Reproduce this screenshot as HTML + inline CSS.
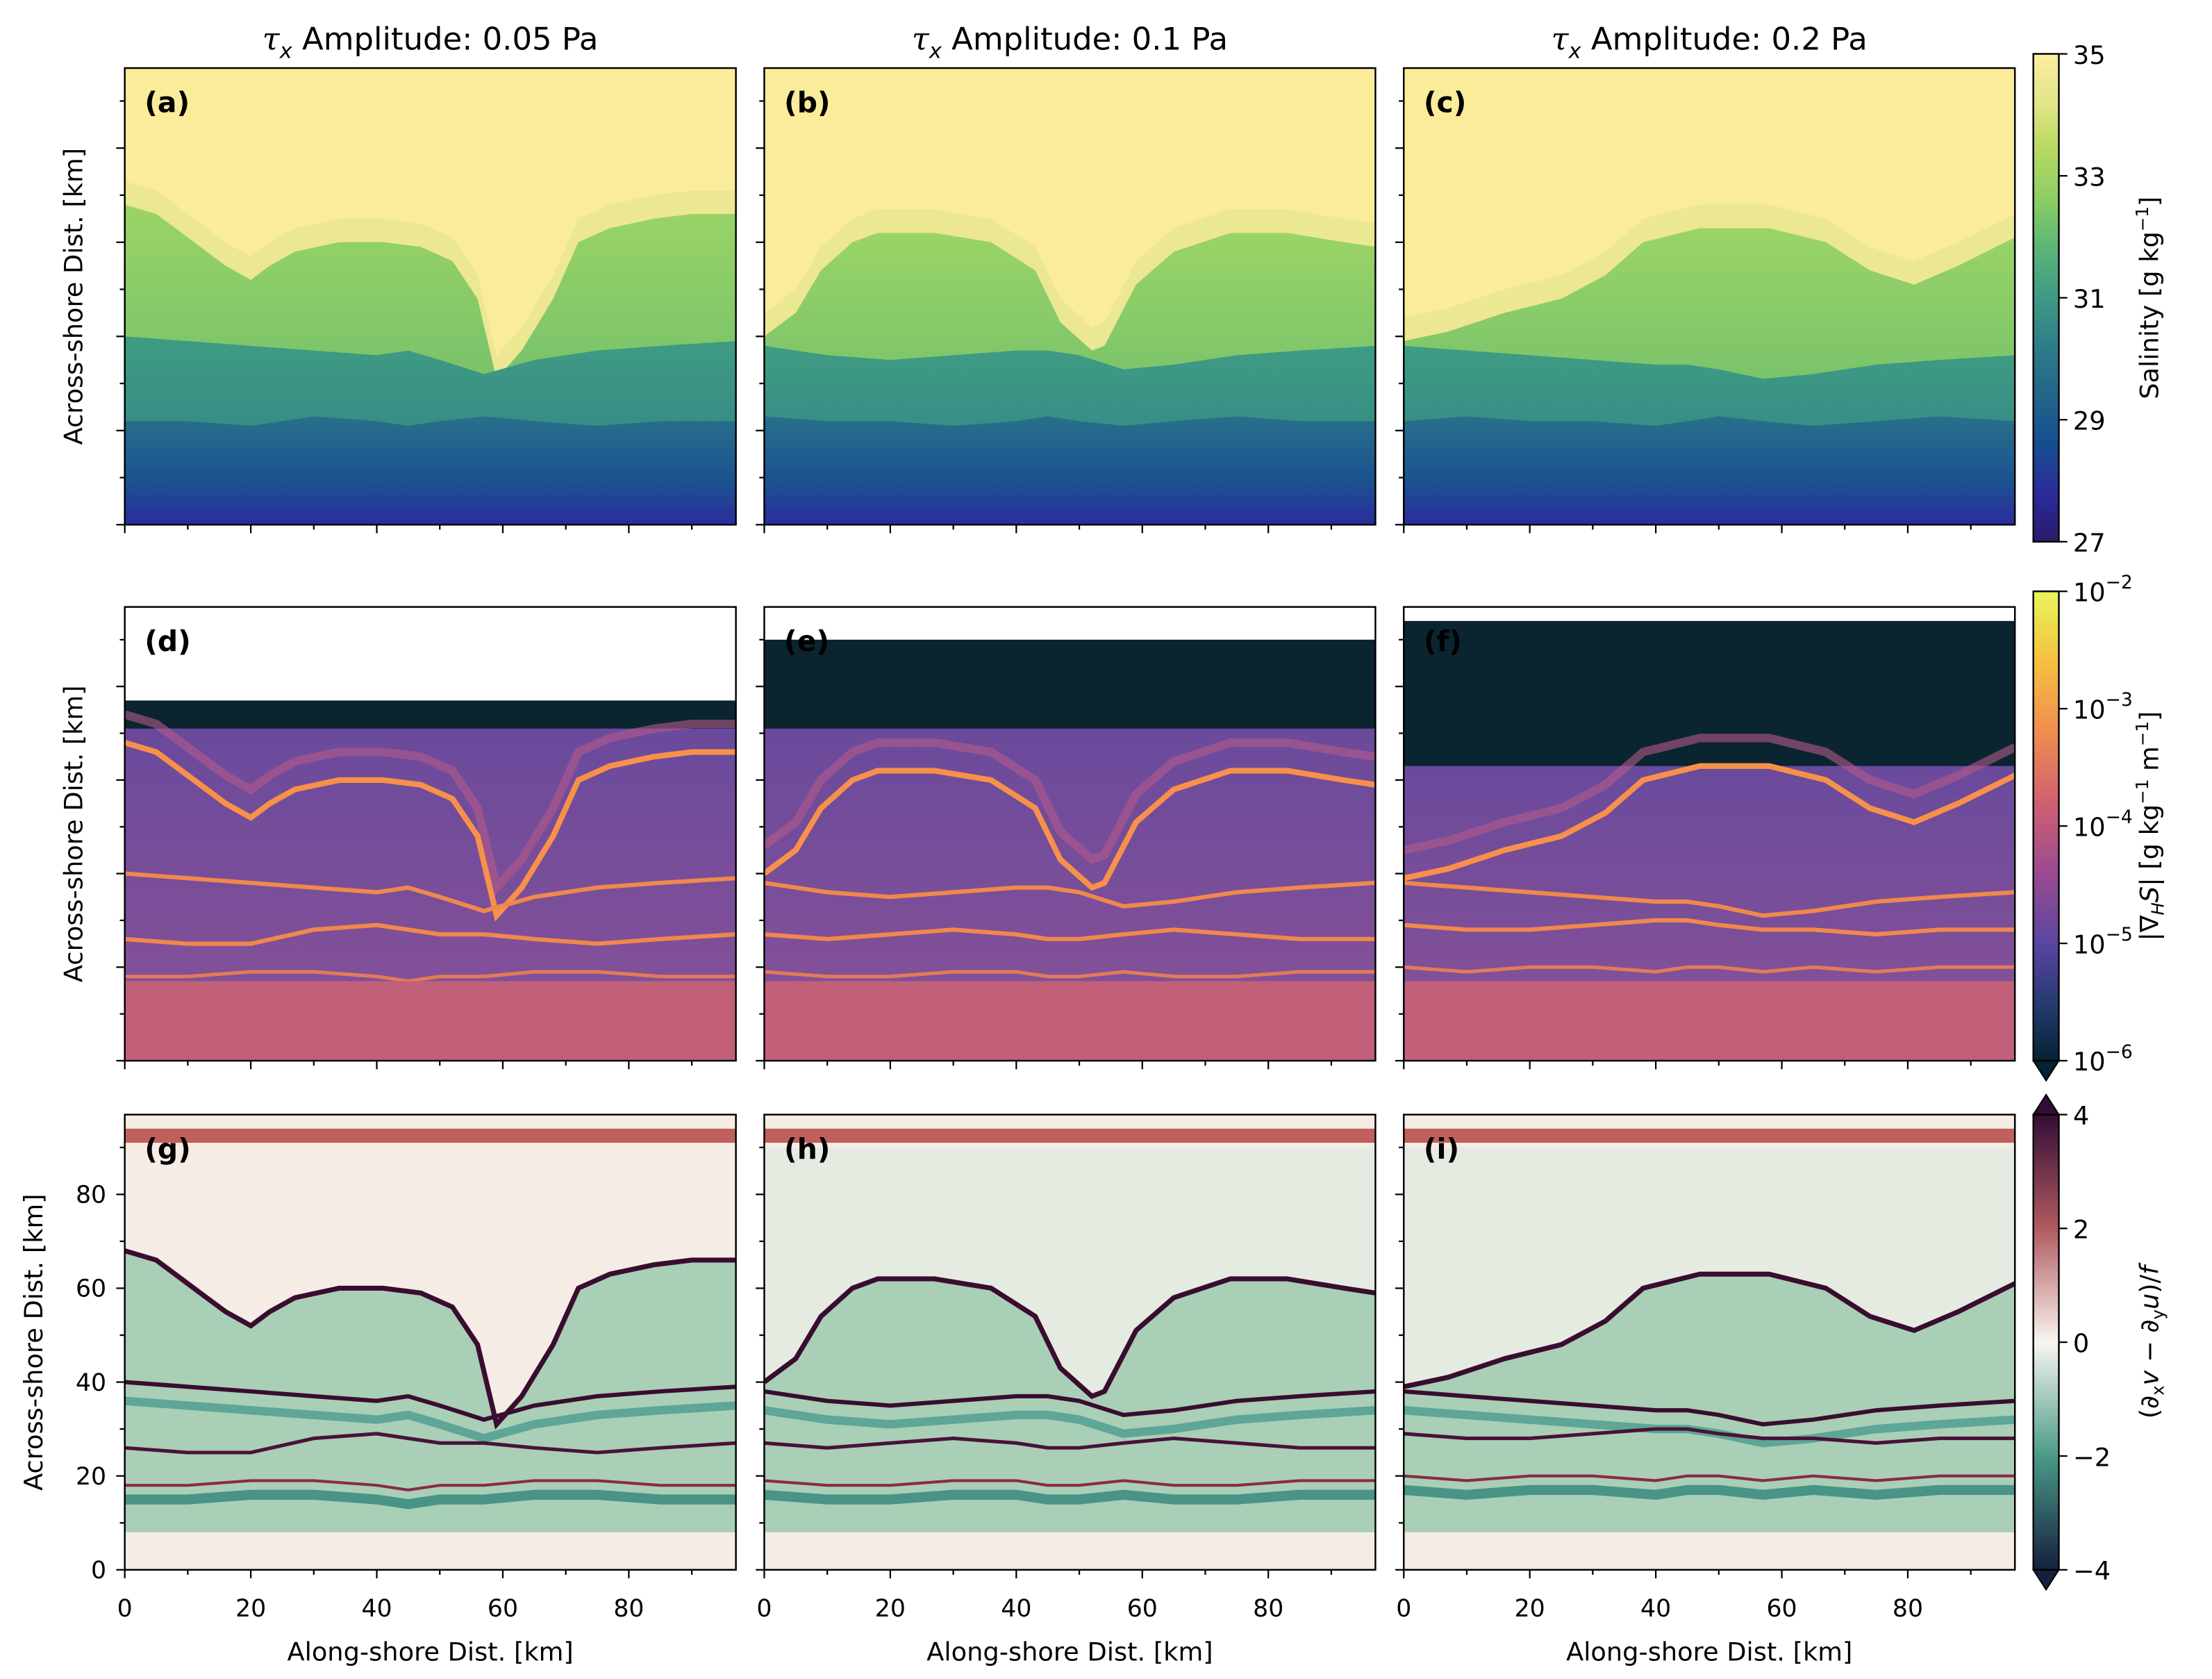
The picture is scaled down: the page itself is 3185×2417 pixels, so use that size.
<!DOCTYPE html>
<html><head><meta charset="utf-8"><style>
html,body{margin:0;padding:0;background:#fff}
svg{display:block}
text{font-family:"DejaVu Sans","Liberation Sans",sans-serif;fill:#000}
</style></head><body>
<svg id="fig" xmlns="http://www.w3.org/2000/svg" width="3185" height="2417" viewBox="0 0 1560 1184" preserveAspectRatio="none">
<defs>
<linearGradient id="cbSal" x1="0" y1="0" x2="0" y2="1">
<stop offset="0" stop-color="#fbeea0"/><stop offset=".1" stop-color="#e3e48a"/><stop offset=".2" stop-color="#b5d960"/><stop offset=".3" stop-color="#8ccc66"/><stop offset=".4" stop-color="#5ab577"/><stop offset=".5" stop-color="#3d9a85"/><stop offset=".6" stop-color="#2e7d88"/><stop offset=".7" stop-color="#236589"/><stop offset=".8" stop-color="#154e90"/><stop offset=".9" stop-color="#2a2b9a"/><stop offset="1" stop-color="#2a1a6a"/></linearGradient>
<linearGradient id="cbGrad" x1="0" y1="0" x2="0" y2="1">
<stop offset="0" stop-color="#e8f55a"/><stop offset=".15" stop-color="#f5c040"/><stop offset=".3" stop-color="#f08c50"/><stop offset=".45" stop-color="#d06070"/><stop offset=".6" stop-color="#9a4a90"/><stop offset=".75" stop-color="#5a45a0"/><stop offset=".88" stop-color="#253a70"/><stop offset="1" stop-color="#042333"/></linearGradient>
<linearGradient id="cbCurl" x1="0" y1="0" x2="0" y2="1">
<stop offset="0" stop-color="#340d35"/><stop offset=".25" stop-color="#b05a60"/><stop offset=".5" stop-color="#f8f5f0"/><stop offset=".75" stop-color="#4a9a88"/><stop offset="1" stop-color="#15203f"/></linearGradient>
<linearGradient id="grGreen" x1="0" y1="0" x2="0" y2="1"><stop offset="0" stop-color="#9ad466"/><stop offset="1" stop-color="#5cb46f"/></linearGradient>
<linearGradient id="grTeal" x1="0" y1="0" x2="0" y2="1"><stop offset="0" stop-color="#3f9c83"/><stop offset="1" stop-color="#2e7d88"/></linearGradient>
<linearGradient id="grBlue" x1="0" y1="0" x2="0" y2="1"><stop offset="0" stop-color="#28708b"/><stop offset=".6" stop-color="#1b5290"/><stop offset="1" stop-color="#2b2c9c"/></linearGradient>
<linearGradient id="grPurp" x1="0" y1="0" x2="0" y2="1"><stop offset="0" stop-color="#6a4a9c"/><stop offset="1" stop-color="#8a5296"/></linearGradient>
</defs>
<g id="root"></g>
</svg>
<script>
// ---------- data (km) ----------
const panelTitles = ["0.05", "0.1", "0.2"];
const frontX = [[0,5,12,16,20,23,27,34,41,47,52,56,59,63,68,72,77,84,90,97],
                [0,5,9,14,18,27,36,43,47,52,54,59,65,74,83,92,97],
                [0,7,16,25,32,38,47,58,67,74,81,88,97]];
const frontY = [[68,66,59,55,52,55,58,60,60,59,56,48,31,37,48,60,63,65,66,66],
                [40,45,54,60,62,62,60,54,43,37,38,51,58,62,62,60,59],
                [39,41,45,48,53,60,63,63,60,54,51,55,61]];
const midX = [0,10,20,30,40,45,50,57,65,75,85,97];
const midY = [[40,39,38,37,36,37,35,32,35,37,38,39],
              [38,36,35,36,37,37,36,33,34,36,37,38],
              [38,37,36,35,34,34,33,31,32,34,35,36]];
const lowY = [[22,22,21,23,22,21,22,23,22,21,22,22],
              [23,22,22,21,22,23,22,21,22,23,22,22],
              [22,23,22,22,21,22,23,22,21,22,23,22]];
const line2Y = [[26,25,25,28,29,28,27,27,26,25,26,27],
                [27,26,27,28,27,26,26,27,28,27,26,26],
                [29,28,28,29,30,30,29,28,28,27,28,28]];
const line3Y = [[18,18,19,19,18,17,18,18,19,19,18,18],
                [19,18,18,19,19,18,18,19,18,18,19,19],
                [20,19,20,20,19,20,20,19,20,19,20,20]];
const whiteTop = [77, 90, 94];
const darkBottom = [71, 71, 63];
const pinkTop = [17, 17, 17];
const salTicks = ["35","33","31","29","27"];
const gradTicks = ["-2","-3","-4","-5","-6"];
const curlTicks = ["4","2","0","\u22122","\u22124"];
const xTickVals = [0,20,40,60,80];
const yTickVals = [0,20,40,60,80];
const letters = ["a","b","c","d","e","f","g","h","i"];

// ---------- layout ----------
const NS = "http://www.w3.org/2000/svg";
const root = document.getElementById("root");
const colX = [88, 539, 990], PW = 431;
const rowTop = [48, 428, 786], rowBot = [370, 748, 1107];
const KM = 97;
function sx(c, v){ return colX[c] + v/KM*PW; }
function sy(r, v){ return rowBot[r] - v/KM*(rowBot[r]-rowTop[r]); }
function mk(tag, attrs, parent){ const e=document.createElementNS(NS,tag); for(const k in attrs) e.setAttribute(k, attrs[k]); (parent||root).appendChild(e); return e; }
function linePath(c, r, xs, ys){ return xs.map((x,i)=>(i?"L":"M")+sx(c,x).toFixed(1)+","+sy(r,ys[i]).toFixed(1)).join(""); }
function fillBelow(c, r, xs, ys, bottomKm){ return linePath(c,r,xs,ys)+"L"+sx(c,xs[xs.length-1])+","+sy(r,bottomKm)+"L"+sx(c,xs[0])+","+sy(r,bottomKm)+"Z"; }
function addOff(arr, d){ return arr.map(v=>v+d); }

for(let c=0;c<3;c++){
  for(let r=0;r<3;r++){
    const cl = mk("clipPath",{id:"cl"+c+"_"+r}, document.querySelector("defs"));
    mk("rect",{x:colX[c],y:rowTop[r],width:PW,height:rowBot[r]-rowTop[r]},cl);
  }
}

for(let c=0;c<3;c++){
  const fx=frontX[c], fy=frontY[c];
  // ----- row 0 salinity -----
  let g = mk("g",{"clip-path":"url(#cl"+c+"_0)"});
  
  
  mk("rect",{x:colX[c],y:rowTop[0],width:PW,height:rowBot[0]-rowTop[0],fill:"#fbec9b"},g);
  mk("path",{d:fillBelow(c,0,fx,addOff(fy,5),0),fill:"#e8e690",opacity:0.8},g);
  mk("path",{d:fillBelow(c,0,fx,fy,0),fill:"url(#grGreen)"},g);
  mk("path",{d:fillBelow(c,0,midX,midY[c],0),fill:"url(#grTeal)"},g);
  mk("path",{d:fillBelow(c,0,midX,lowY[c],0),fill:"url(#grBlue)"},g);
  // ----- row 1 gradient magnitude -----
  g = mk("g",{"clip-path":"url(#cl"+c+"_1)"});
  
  
  mk("rect",{x:colX[c],y:rowTop[1],width:PW,height:rowBot[1]-rowTop[1],fill:"#ffffff"},g);
  mk("rect",{x:colX[c],y:sy(1,whiteTop[c]),width:PW,height:sy(1,0)-sy(1,whiteTop[c]),fill:"#0a2530"},g);
  mk("rect",{x:colX[c],y:sy(1,darkBottom[c]),width:PW,height:sy(1,0)-sy(1,darkBottom[c]),fill:"url(#grPurp)"},g);
  mk("path",{d:linePath(c,1,fx,addOff(fy,6)),stroke:"#b45a88",fill:"none","stroke-width":6,opacity:.6},g);
  mk("path",{d:linePath(c,1,fx,fy),stroke:"#f7904a",fill:"none","stroke-width":4},g);
  mk("path",{d:linePath(c,1,midX,midY[c]),stroke:"#f0884c",fill:"none","stroke-width":3},g);
  mk("path",{d:linePath(c,1,midX,line2Y[c]),stroke:"#f0884c",fill:"none","stroke-width":3},g);
  mk("path",{d:linePath(c,1,midX,line3Y[c]),stroke:"#e47a58",fill:"none","stroke-width":2.5},g);
  mk("rect",{x:colX[c],y:sy(1,pinkTop[c]),width:PW,height:sy(1,0)-sy(1,pinkTop[c]),fill:"#c2607a"},g);
  // ----- row 2 vorticity -----
  g = mk("g",{"clip-path":"url(#cl"+c+"_2)"});
  
  
  mk("rect",{x:colX[c],y:rowTop[2],width:PW,height:rowBot[2]-rowTop[2],fill:"#f6ece6"},g);
  if(c>0) mk("rect",{x:colX[c],y:sy(2,90),width:PW,height:sy(2,35)-sy(2,90),fill:"#e6ebe2"},g);
  mk("path",{d:fillBelow(c,2,fx,fy,8),fill:"#a9cfb6"},g);
  mk("path",{d:linePath(c,2,midX,addOff(midY[c],-4)),stroke:"#2d8a80",fill:"none","stroke-width":6,opacity:.6},g);
  mk("path",{d:linePath(c,2,midX,addOff(line3Y[c],-3)),stroke:"#1f7a74",fill:"none","stroke-width":7,opacity:.7},g);
  mk("path",{d:linePath(c,2,fx,fy),stroke:"#3a0d30",fill:"none","stroke-width":3.5},g);
  mk("path",{d:linePath(c,2,midX,midY[c]),stroke:"#3a0d30",fill:"none","stroke-width":3},g);
  mk("path",{d:linePath(c,2,midX,line2Y[c]),stroke:"#4a1238",fill:"none","stroke-width":2.5},g);
  mk("path",{d:linePath(c,2,midX,line3Y[c]),stroke:"#8a2a48",fill:"none","stroke-width":2},g);
  mk("rect",{x:colX[c],y:sy(2,94),width:PW,height:sy(2,91)-sy(2,94),fill:"#c0605a"},g);
}

// ----- axes frames, ticks, labels -----
for(let r=0;r<3;r++){
  for(let c=0;c<3;c++){
    const f = mk("rect",{x:colX[c],y:rowTop[r],width:PW,height:rowBot[r]-rowTop[r],fill:"none",stroke:"#000","stroke-width":1.2});
    
    
    const lt = mk("text",{x:colX[c]+14,y:rowTop[r]+31,"font-size":20,"font-weight":"bold"});
    lt.textContent = "("+letters[r*3+c]+")";
    
    
    for(let v=0; v<=90; v+=10){
      const L = (v%20===0)?6:3.5;
      mk("line",{x1:sx(c,v),x2:sx(c,v),y1:rowBot[r],y2:rowBot[r]+L,stroke:"#000","stroke-width":1.1});
      mk("line",{x1:colX[c],x2:colX[c]-L,y1:sy(r,v),y2:sy(r,v),stroke:"#000","stroke-width":1.1});
    }
    if(r===2){
      xTickVals.forEach(v=>{
        const t = mk("text",{x:sx(c,v),y:1140,"font-size":17,"text-anchor":"middle"});
        t.textContent = v;
        
        
      });
      const xl = mk("text",{x:colX[c]+PW/2,y:1171,"font-size":18,"text-anchor":"middle"});
      xl.textContent = "Along-shore Dist. [km]";
      
      
    }
    if(r===0){
      const tt = mk("text",{x:colX[c]+PW/2,y:35,"font-size":22,"text-anchor":"middle"});
      tt.innerHTML = '<tspan font-style="italic" font-family="DejaVu Serif, serif">τ</tspan><tspan font-size="15" dy="6" font-style="italic">x</tspan><tspan dy="-6"> Amplitude: '+panelTitles[c]+' Pa</tspan>';
      
      
    }
  }
  if(r===2){
    yTickVals.forEach(v=>{
      const t = mk("text",{x:75,y:sy(2,v)+6,"font-size":17,"text-anchor":"end"});
      t.textContent = v;
      
      
    });
  }
  const yx = r===2?30:58, yc=(rowTop[r]+rowBot[r])/2;
  const yl = mk("text",{x:yx,y:yc,"font-size":18,"text-anchor":"middle",transform:"rotate(-90 "+yx+" "+yc+")"});
  yl.textContent = "Across-shore Dist. [km]";
  
  
}

// ----- colorbars -----
const cbx=1434, cbw=18;
const cbs = [
  {t:38,b:382,fill:"url(#cbSal)",ticks:salTicks,label:"Salinity [g kg<tspan dy='-7' font-size='12'>−1</tspan><tspan dy='7'>]</tspan>",name:"salinity-colorbar",up:false,down:false,exp:false},
  {t:417,b:748,fill:"url(#cbGrad)",ticks:gradTicks,label:"|∇<tspan font-size='12' dy='4' font-style='italic'>H</tspan><tspan dy='-4' font-style='italic'>S</tspan>| [g kg<tspan dy='-7' font-size='12'>−1</tspan><tspan dy='7'> m</tspan><tspan dy='-7' font-size='12'>−1</tspan><tspan dy='7'>]</tspan>",name:"gradient-colorbar",up:false,down:true,exp:true},
  {t:786,b:1107,fill:"url(#cbCurl)",ticks:curlTicks,label:"(∂<tspan font-size='12' dy='4'>x</tspan><tspan dy='-4' font-style='italic'>v</tspan> − ∂<tspan font-size='12' dy='4'>y</tspan><tspan dy='-4' font-style='italic'>u</tspan>)/<tspan font-style='italic'>f</tspan>",name:"vorticity-colorbar",up:true,down:true,exp:false}
];
cbs.forEach((cb,i)=>{
  const g = mk("g",{});
  
  
  mk("rect",{x:cbx,y:cb.t,width:cbw,height:cb.b-cb.t,fill:cb.fill},g);
  if(cb.down) mk("path",{d:`M${cbx},${cb.b}L${cbx+cbw},${cb.b}L${cbx+cbw/2},${cb.b+14}Z`,fill:i===1?"#042333":"#15203f",stroke:"#000","stroke-width":1},g);
  if(cb.up) mk("path",{d:`M${cbx},${cb.t}L${cbx+cbw},${cb.t}L${cbx+cbw/2},${cb.t-14}Z`,fill:"#340d35",stroke:"#000","stroke-width":1},g);
  mk("rect",{x:cbx,y:cb.t,width:cbw,height:cb.b-cb.t,fill:"none",stroke:"#000","stroke-width":1.2},g);
  const n=cb.ticks.length;
  cb.ticks.forEach((tk,j)=>{
    const y = cb.t + (cb.b-cb.t)*j/(n-1);
    mk("line",{x1:cbx+cbw,x2:cbx+cbw+6,y1:y,y2:y,stroke:"#000","stroke-width":1.1},g);
    const t = mk("text",{x:cbx+cbw+10,y:y+7,"font-size":18},g);
    if(cb.exp) t.innerHTML = "10<tspan dy='-9' font-size='13'>"+tk.replace("-","−")+"</tspan>";
    else t.textContent = tk;
    
    
  });
  const lx=1522, ly=(cb.t+cb.b)/2;
  const l = mk("text",{x:lx,y:ly,"font-size":18,"text-anchor":"middle",transform:"rotate(-90 "+lx+" "+ly+")"},g);
  l.innerHTML = cb.label;
  
  
});
</script>
</body></html>
